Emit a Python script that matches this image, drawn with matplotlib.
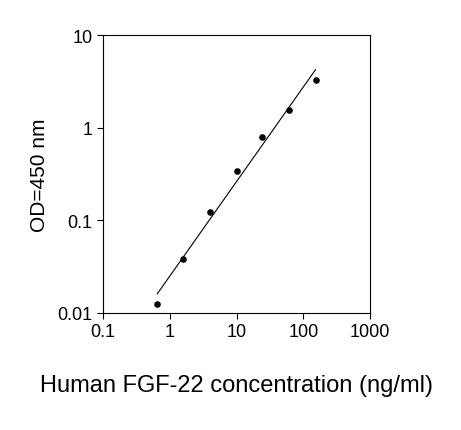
import numpy as np
import matplotlib
matplotlib.use("Agg")
import matplotlib.pyplot as plt

conc = [0.65, 1.6, 4.0, 10.0, 24.5, 61.0, 152.6]
od = [0.0125, 0.038, 0.123, 0.34, 0.79, 1.55, 3.28]
xticks = [0.1, 1, 10, 100, 1000]
xticklabels = ["0.1", "1", "10", "100", "1000"]
yticks = [0.01, 0.1, 1, 10]
yticklabels = ["0.01", "0.1", "1", "10"]

plt.rcParams['font.family'] = ['Liberation Sans', 'DejaVu Sans']
fig = plt.figure(figsize=(4.61, 4.31), dpi=100)
ax = fig.add_axes([103/461, 1-314/431, (370-103)/461, (314-36)/431])
lx, ly = np.log10(conc), np.log10(od)
b, a = np.polyfit(lx, ly, 1)
xs = np.array([lx[0], lx[-1]])
ax.plot(10**xs, 10**(a + b*xs), color='black', lw=0.8)
ax.scatter(conc, od, s=14, color='black', zorder=3)
ax.set_xscale('log'); ax.set_yscale('log')
ax.set_xlim(0.1, 1000); ax.set_ylim(0.01, 10)
ax.set_xticks(xticks); ax.set_xticklabels(xticklabels)
ax.set_yticks(yticks); ax.set_yticklabels(yticklabels)
ax.minorticks_off()
ax.tick_params(labelsize=13, direction='out', length=4)
ax.set_ylabel("OD=450 nm", fontsize=15, labelpad=6)
ax.set_xlabel("Human FGF-22 concentration (ng/ml)", fontsize=17, labelpad=24)
fig.savefig("out.png", dpi=100)
